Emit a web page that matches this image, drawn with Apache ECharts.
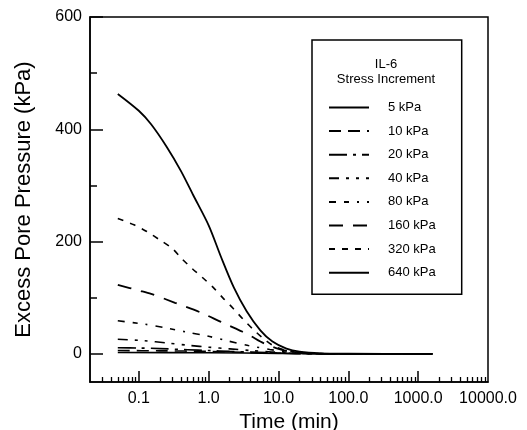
<!DOCTYPE html>
<html>
<head>
<meta charset="utf-8">
<script src="https://cdn.jsdelivr.net/npm/echarts@6/dist/echarts.min.js"></script>
<style>html,body{margin:0;padding:0;background:#fff}#c{width:527px;height:430px}</style>
</head>
<body>
<div id="c"></div>
<script>
// ---- data (time in min, excess pore pressure in kPa) ----
const seriesNames = ['5 kPa','10 kPa','20 kPa','40 kPa','80 kPa','160 kPa','320 kPa','640 kPa'];
const t5 = [0.05, 1, 10, 30, 100, 1600];
const p5 = [2.5, 2, 1, 0.3, 0, 0];
const t10 = [0.05, 0.2, 1, 3, 10, 30, 100, 1600];
const p10 = [6, 5.5, 4.5, 3, 1.5, 0.5, 0, 0];
const t20 = [0.05, 0.1, 0.2, 0.5, 1, 2, 5, 10, 20, 100, 1600];
const p20 = [11, 10.5, 9.5, 7.5, 6, 4.5, 3, 1.5, 0.5, 0, 0];
const t40 = [0.05, 0.12, 0.25, 0.55, 1, 2, 4, 8, 15, 30, 100, 1600];
const p40 = [26, 23.5, 19.5, 15, 12, 9, 6, 3.5, 1.5, 0.5, 0, 0];
const t80 = [0.05, 0.12, 0.23, 0.48, 0.95, 1.9, 3.7, 7.5, 12, 20, 50, 100, 1600];
const p80 = [59, 53, 47, 39, 32, 23, 15, 8, 4, 1.5, 0.3, 0, 0];
const t160 = [0.05, 0.1, 0.15, 0.33, 0.76, 1.5, 2.0, 3.0, 4.0, 5.5, 7, 10, 15, 30, 100, 1600];
const p160 = [123, 113, 107, 91, 74, 57, 50, 40, 32, 22, 16, 9, 4, 1, 0, 0];
const t320 = [0.05, 0.085, 0.13, 0.2, 0.3, 0.41, 0.58, 0.8, 1.17, 1.62, 2.25, 3.1, 4.4, 6.4, 8.9, 13, 20, 40, 100, 1600];
const p320 = [241, 230, 218, 203, 188, 170, 152, 137, 118, 99, 81, 62, 43, 25, 13, 6, 2.5, 0.5, 0, 0];
const t640 = [0.05, 0.1, 0.15, 0.25, 0.4, 0.6, 1.0, 1.5, 2.3, 3.5, 5.5, 8.2, 13, 20, 40, 100, 1600];
const p640 = [463, 433, 409, 369, 326, 283, 229, 173, 118, 76, 42, 22, 9.5, 4, 1, 0.3, 0];

// ---- axis ticks ----
const xMajor = [0.1, 1, 10, 100, 1000, 10000];
const xLabels = ['0.1', '1.0', '10.0', '100.0', '1000.0', '10000.0'];
const xMinor = [0.03,0.04,0.05,0.06,0.07,0.08,0.09,
  0.2,0.3,0.4,0.5,0.6,0.7,0.8,0.9,
  2,3,4,5,6,7,8,9, 20,30,40,50,60,70,80,90,
  200,300,400,500,600,700,800,900, 2000,3000,4000,5000,6000,7000,8000,9000];
const yMajor = [0, 200, 400, 600];
const yMinor = [100, 300, 500];

const times = [t5, t10, t20, t40, t80, t160, t320, t640];
const vals = [p5, p10, p20, p40, p80, p160, p320, p640];
const dashes = [
  'solid',
  [12, 7],
  [18, 6, 3, 6],
  [10, 7, 3, 7, 3, 7],
  [7, 8, 5, 8, 2, 8],
  [14, 10],
  [6, 7],
  'solid'
];
const widths = [1.6, 1.6, 1.6, 1.6, 1.6, 1.8, 1.6, 1.8];

const FONT = '"Liberation Sans", Arial, Helvetica, sans-serif';

const series = seriesNames.map((n, i) => ({
  name: n,
  type: 'line',
  xAxisIndex: 0,
  yAxisIndex: 0,
  symbol: 'none',
  smooth: 0.3,
  data: times[i].map((t, j) => [t, vals[i][j]]),
  lineStyle: { color: '#000', width: widths[i], type: dashes[i] },
  itemStyle: { color: '#000' },
  z: 2 + i
}));

const chart = echarts.init(document.getElementById('c'), null, { renderer: 'canvas' });
chart.setOption({
  backgroundColor: '#fff',
  animation: false,
  grid: {
    left: 90, right: 39, top: 17, bottom: 48,
    containLabel: false, outerBoundsMode: 'none',
    show: true, borderColor: '#000', borderWidth: 1.5, backgroundColor: 'transparent'
  },
  xAxis: [
    {
      type: 'log', logBase: 10, min: 0.02, max: 10000, position: 'bottom',
      name: 'Time (min)', nameLocation: 'middle', nameGap: 23,
      nameTextStyle: { fontFamily: FONT, fontSize: 21, color: '#000' },
      axisLine: { show: true, onZero: false, lineStyle: { color: '#000', width: 1.5 } },
      axisTick: { show: true, inside: true, length: 5, customValues: xMinor, lineStyle: { color: '#000', width: 1.3 } },
      axisLabel: {
        show: true, customValues: xMajor, margin: 9,
        fontFamily: FONT, fontSize: 16, color: '#000',
        formatter: v => { const i = xMajor.findIndex(m => Math.abs(m - v) / m < 1e-6); return i >= 0 ? xLabels[i] : ''; }
      },
      splitLine: { show: false }, minorTick: { show: false }, minorSplitLine: { show: false }
    },
    {
      type: 'log', logBase: 10, min: 0.02, max: 10000, position: 'bottom', gridIndex: 0,
      axisLine: { show: false, onZero: false },
      axisTick: { show: true, inside: true, length: 11, customValues: xMajor.slice(0, 5), lineStyle: { color: '#000', width: 1.5 } },
      axisLabel: { show: false },
      splitLine: { show: false }
    }
  ],
  yAxis: [
    {
      type: 'value', min: -50, max: 600, position: 'left',
      name: 'Excess Pore Pressure (kPa)', nameLocation: 'middle', nameGap: 55,
      nameTextStyle: { fontFamily: FONT, fontSize: 22, color: '#000' },
      axisLine: { show: true, onZero: false, lineStyle: { color: '#000', width: 1.5 } },
      axisTick: { show: true, inside: true, length: 13, customValues: yMajor, lineStyle: { color: '#000', width: 1.5 } },
      axisLabel: { show: true, customValues: yMajor, margin: 8, fontFamily: FONT, fontSize: 16, color: '#000' },
      splitLine: { show: false }
    },
    {
      type: 'value', min: -50, max: 600, position: 'left', gridIndex: 0,
      axisLine: { show: false, onZero: false },
      axisTick: { show: true, inside: true, length: 7, customValues: yMinor, lineStyle: { color: '#000', width: 1.5 } },
      axisLabel: { show: false },
      splitLine: { show: false }
    }
  ],
  legend: {
    data: seriesNames,
    orient: 'vertical',
    left: 312, top: 40,
    padding: [61, 26, 15, 16],
    itemWidth: 40, itemHeight: 14, itemGap: 10.6,
    borderColor: '#000', borderWidth: 1.5, backgroundColor: '#fff',
    itemStyle: { opacity: 0 },
    textStyle: { fontFamily: FONT, fontSize: 13, color: '#000', padding: [0, 0, 0, 14] },
    selectedMode: false
  },
  graphic: [{
    type: 'text', left: 326, top: 57, z: 100,
    style: {
      text: 'IL-6\nStress Increment', width: 120, align: 'center', textAlign: 'center',
      font: '13px ' + FONT, fill: '#000', lineHeight: 15
    }
  }],
  series: series
});
</script>
</body>
</html>
